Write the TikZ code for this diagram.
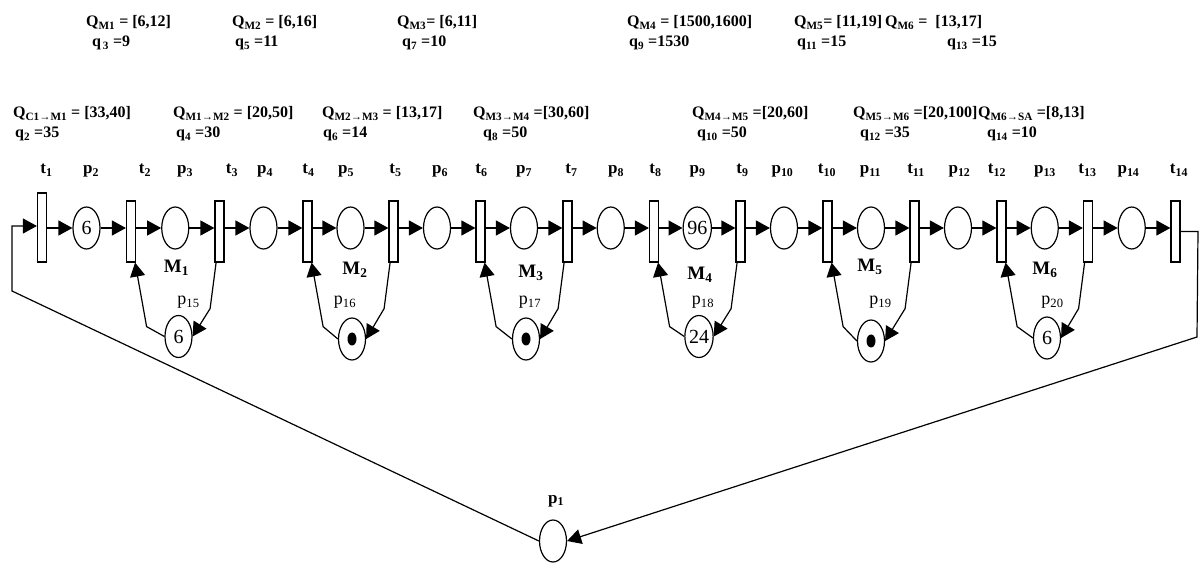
\documentclass[tikz,border=0pt]{standalone}
\usepackage{fontspec}
\setmainfont{Liberation Serif}
\usetikzlibrary{arrows.meta,shapes.geometric,positioning}

\begin{document}
\begin{tikzpicture}[
  x=1pt, y=1pt,
  trans/.style={draw, line width=1.2pt, fill=white, minimum width=9pt, minimum height=61pt, inner sep=0pt},
  place/.style={draw, ellipse, line width=1.2pt, minimum width=27pt, minimum height=42pt, inner sep=0pt, font=\fontsize{20}{24}\selectfont},
  lbl/.style={font=\bfseries\fontsize{17}{20}\selectfont, anchor=base, inner sep=0pt},
  mlbl/.style={font=\bfseries\fontsize{19}{22}\selectfont, anchor=base, inner sep=0pt},
  rlbl/.style={font=\fontsize{18}{21}\selectfont, anchor=base, inner sep=0pt},
  info/.style={font=\bfseries\fontsize{16}{19}\selectfont, anchor=base west, inner sep=0pt},
  arc/.style={line width=1.2pt, -{Triangle[length=14pt,width=15pt]}}
]
\useasboundingbox (0,0) rectangle (1203,563);

% interval data
\foreach \x/\y/\txt [count=\n] in {
  86/536/{Q\textsubscript{M1} = [6,12]}, 232/536/{Q\textsubscript{M2} = [6,16]},
  397/536/{Q\textsubscript{M3}= [6,11]}, 627/536/{Q\textsubscript{M4} = [1500,1600]},
  794/536/{Q\textsubscript{M5}= [11,19]}, 885/536/{Q\textsubscript{M6} =~ [13,17]},
  92/516/{q\textsubscript{\,3} =9}, 235/516/{q\textsubscript{5} =11},
  402/516/{q\textsubscript{7} =10}, 629/516/{q\textsubscript{9} =1530},
  797/516/{q\textsubscript{11} =15}, 947/516/{q\textsubscript{13} =15},
  13/445/{Q\textsubscript{C1→M1} = [33,40]}, 173/445/{Q\textsubscript{M1→M2} = [20,50]},
  322/445/{Q\textsubscript{M2→M3} = [13,17]}, 473/445/{Q\textsubscript{M3→M4} =[30,60]},
  692/445/{Q\textsubscript{M4→M5} =[20,60]}, 853/445/{Q\textsubscript{M5→M6} =[20,100]},
  978/445/{Q\textsubscript{M6→SA} =[8,13]},
  15/425/{q\textsubscript{2} =35}, 176/425/{q\textsubscript{4} =30},
  323/425/{q\textsubscript{6} =14}, 483/425/{q\textsubscript{8} =50},
  697/425/{q\textsubscript{10} =50}, 860/425/{q\textsubscript{12} =35},
  987/425/{q\textsubscript{14} =10}}
  \node[info] (info\n) at (\x,\y) {\txt};

% transitions
\node[trans, minimum height=69pt] (t1) at (42,335.5) {};
\node[lbl] (tl1) at (46.5,389.5) {t\textsubscript{1}};
\foreach \i/\x/\lx in {2/131/145, 3/219.5/232, 4/307.5/308.5, 5/393.5/395.5,
  6/480.5/481.5, 7/567.5/571.5, 8/654/655.5, 9/740.5/742.5, 10/827.5/827,
  11/914.5/916, 12/1001.5/997, 13/1088/1087.5, 14/1175.5/1179} {
  \node[trans] (t\i) at (\x,331.5) {};
  \node[lbl] (tl\i) at (\lx,389.5) {t\textsubscript{\i}};
}

% buffer places
\foreach \i/\x/\lx/\tok in {2/86.5/91/6, 3/175.25/185/{}, 4/263.5/265/{}, 5/350.5/346/{},
  6/437/440/{}, 7/524/524/{}, 8/610.75/616/{}, 9/697.25/697.5/96, 10/784/782.5/{},
  11/871/870.5/{}, 12/958/959.5/{}, 13/1044.75/1045/{}, 14/1131.75/1128.5/{}} {
  \node[place] (p\i) at (\x,335) {\tok};
  \node[lbl] (pl\i) at (\lx,389.5) {p\textsubscript{\i}};
}

\foreach \i [evaluate=\i as \j using int(\i+1)] in {1,...,13} {
  \draw[arc] (t\i.east |- p\j) -- (p\j);
  \draw[arc] (p\j) -- (p\j -| t\j.west);
}

% machine resources
\foreach \m/\a/\b/\x/\y/\tok/\mx/\my/\rx in {
  1/2/3/178.5/226.5/6/176.5/290/188.5, 2/4/5/352/224/{}/355/288/345,
  3/6/7/526/224/{}/531/285/530, 4/8/9/699/226.5/24/700/283/703,
  5/10/11/871/222/{}/870/291/880.5, 6/12/13/1047/225/6/1045/288/1052.5} {
  \pgfmathtruncatemacro{\pn}{\m+14}
  \node[place] (r\m) at (\x,\y) {\tok};
  \node[mlbl] (ml\m) at (\mx,\my) {M\textsubscript{\m}};
  \node[rlbl] (rl\m) at (\rx,258) {p\textsubscript{\pn}};
  \draw[arc] (r\m.west) -- ([shift={(10.5,-64)}]t\a.south east) -- ([xshift=-1pt]t\a.south east);
  \draw[arc] ([xshift=-8.5pt]t\b.south east) -- ([shift={(-14.5,-46)}]t\b.south east) -- (r\m.east);
}
\fill (r2) ellipse [x radius=4.5pt, y radius=6.5pt];
\fill (r3) ellipse [x radius=4.5pt, y radius=6.5pt];
\fill (r5) ellipse [x radius=4.5pt, y radius=6.5pt];

% raw material place and return loop
\node[place] (p1) at (553,22) {};
\node[lbl] (pl1) at (556,60) {p\textsubscript{1}};
\coordinate (fbl) at (12,272);
\coordinate (fbt) at (12,337);
\coordinate (fbr) at (1198,331.5);
\coordinate (fbb) at (1197,226);
\draw[arc] (p1.west) -- (fbl) -- (fbt) -- (fbt -| t1.west);
\draw[arc] (t14.east) -- (fbr) -- (fbb) -- (p1.east);
\end{tikzpicture}
\end{document}
